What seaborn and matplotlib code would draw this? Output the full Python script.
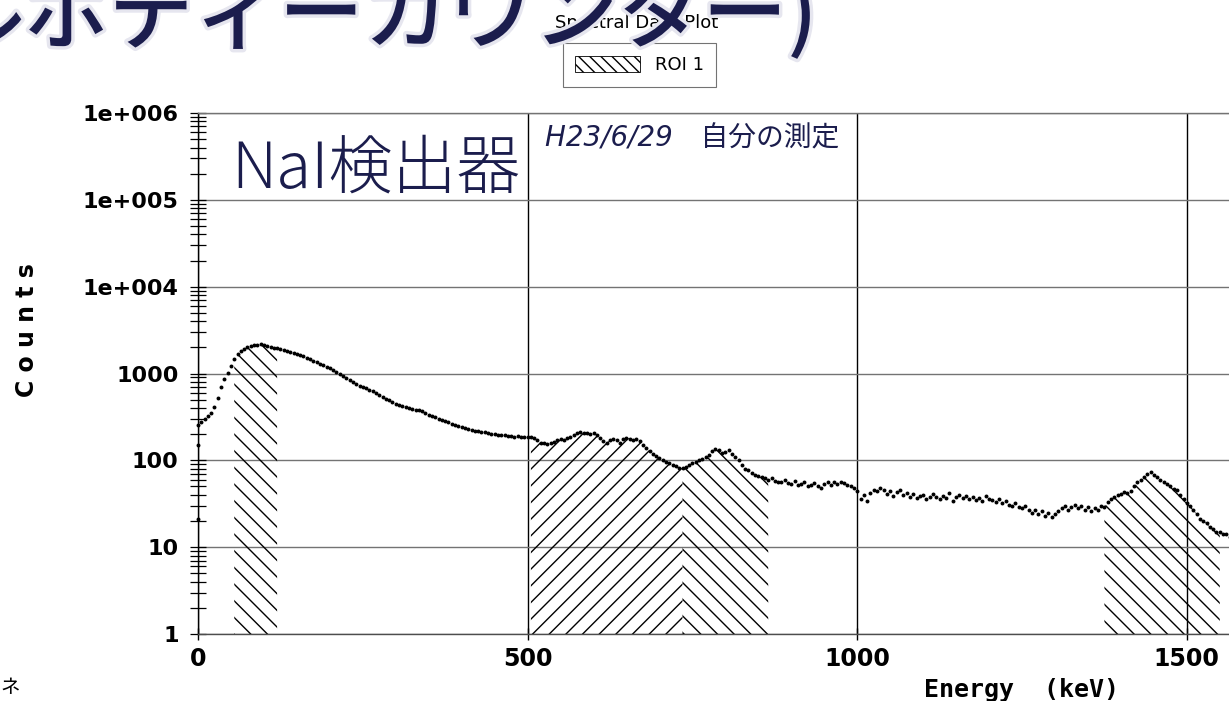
import numpy as np
import matplotlib
matplotlib.use("Agg")
import matplotlib.pyplot as plt
import matplotlib.patheffects as pe
from matplotlib.patches import Patch
from matplotlib.ticker import LogLocator, NullFormatter
import seaborn as sns

# energy channels (keV), 5 keV apart
energy = np.arange(0, 1570, 5)

# counts, one list per 100 keV block
counts_0 = [255, 275, 300, 320, 355, 410, 520, 700, 860, 1020,
            1220, 1480, 1680, 1820, 1930, 2000, 2060, 2110, 2140, 2160]
counts_100 = [2130, 2100, 2040, 1990, 1950, 1900, 1850, 1810, 1760, 1720,
              1690, 1620, 1570, 1510, 1450, 1400, 1340, 1290, 1240, 1190]
counts_200 = [1160, 1100, 1040, 990, 940, 895, 850, 800, 760, 725,
              700, 680, 650, 630, 600, 570, 540, 515, 490, 465]
counts_300 = [450, 435, 420, 410, 405, 395, 380, 375, 370, 350,
              335, 320, 315, 300, 290, 285, 275, 262, 255, 248]
counts_400 = [240, 236, 228, 222, 218, 215, 212, 210, 208, 203,
              200, 198, 194, 195, 190, 191, 188, 190, 186, 185]
counts_500 = [184, 188, 182, 172, 160, 158, 155, 157, 162, 170,
              175, 172, 180, 188, 195, 205, 210, 208, 205, 200]
counts_600 = [205, 195, 180, 165, 160, 170, 178, 172, 160, 175,
              182, 178, 172, 178, 165, 150, 140, 128, 118, 112]
counts_700 = [105, 100, 95, 92, 88, 85, 82, 81, 84, 88,
              92, 96, 100, 104, 108, 115, 128, 135, 130, 122]
counts_800 = [125, 130, 118, 108, 102, 88, 80, 78, 72, 68,
              66, 64, 63, 60, 62, 58, 56, 57, 60, 55]
counts_900 = [54, 58, 52, 54, 57, 50, 52, 55, 50, 48,
              53, 56, 52, 57, 54, 56, 55, 52, 50, 48]
counts_1000 = [44, 36, 40, 34, 42, 46, 44, 48, 45, 41,
               44, 39, 43, 46, 40, 42, 38, 41, 37, 39]
counts_1100 = [40, 36, 38, 41, 38, 36, 39, 37, 42, 34,
               38, 40, 37, 39, 36, 38, 35, 37, 34, 39]
counts_1200 = [36, 35, 33, 36, 32, 34, 31, 30, 32, 29,
               28, 30, 27, 25, 27, 24, 26, 23, 25, 22]
counts_1300 = [24, 26, 28, 30, 27, 29, 31, 28, 30, 27,
               29, 26, 28, 27, 30, 29, 33, 36, 38, 40]
counts_1400 = [41, 43, 42, 44, 50, 56, 60, 64, 70, 74,
               68, 65, 60, 57, 54, 50, 47, 45, 40, 36]
counts_1500 = [32, 30, 27, 24, 21, 20, 19, 17, 16, 15, 15, 14, 14, 13]

counts = np.array(counts_0 + counts_100 + counts_200 + counts_300 + counts_400
                  + counts_500 + counts_600 + counts_700 + counts_800 + counts_900
                  + counts_1000 + counts_1100 + counts_1200 + counts_1300
                  + counts_1400 + counts_1500, dtype=float)

# stray first-channel points
first_energy = [0, 0]
first_counts = [21, 150]

# regions of interest
roi_lo = [55, 505, 735, 1375]
roi_hi = [120, 735, 865, 1550]
roi_hatch = ['\\\\', '//', '\\\\', '\\\\']

ytick_vals = [1, 10, 100, 1000, 1e4, 1e5, 1e6]
ytick_labels = ['1', '10', '100', '1000', '1e+004', '1e+005', '1e+006']
xtick_vals = [0, 500, 1000, 1500]

navy = '#1b1d4d'

sns.set_theme(style='ticks')
plt.rcParams['font.family'] = ['DejaVu Sans', 'Noto Sans CJK JP']
plt.rcParams['hatch.linewidth'] = 1.0
plt.rcParams['text.color'] = 'black'
plt.rcParams['xtick.labelcolor'] = 'black'
plt.rcParams['ytick.labelcolor'] = 'black'

fig = plt.figure(figsize=(12.29, 7.01), dpi=100)
fig.patch.set_facecolor('white')
ax = fig.add_axes([198 / 1229, 1 - 634 / 701, 1 - 198 / 1229, (634 - 113) / 701])
ax.set_facecolor('white')

for lo, hi, h in zip(roi_lo, roi_hi, roi_hatch):
    m = (energy >= lo) & (energy <= hi)
    ax.fill_between(energy[m], 1, counts[m], hatch=h, facecolor='none',
                    edgecolor='black', linewidth=0, zorder=2)

sns.scatterplot(x=energy, y=counts, color='black', s=8, linewidth=0,
                ax=ax, zorder=4, legend=False, clip_on=False)
sns.scatterplot(x=first_energy, y=first_counts, color='black', s=8, linewidth=0,
                ax=ax, zorder=4, legend=False, clip_on=False)

ax.set_yscale('log')
ax.set_xlim(0, 1564)
ax.set_ylim(1, 1e6)
ax.set_xticks(xtick_vals)
ax.set_yticks(ytick_vals, labels=ytick_labels)
ax.yaxis.set_minor_locator(LogLocator(base=10, subs=np.arange(2, 10), numticks=20))
ax.yaxis.set_minor_formatter(NullFormatter())
ax.tick_params(axis='y', which='both', direction='inout', length=12, width=0.9,
               labelsize=16, pad=8, color='black', labelcolor='black')
ax.tick_params(axis='x', which='major', direction='inout', length=8, width=1,
               labelsize=17, pad=5, color='black', labelcolor='black')
ax.tick_params(axis='x', which='minor', bottom=False)
for lab in ax.get_xticklabels() + ax.get_yticklabels():
    lab.set_fontweight('bold')
ax.set_xlabel('')
ax.set_ylabel('')

ax.grid(axis='y', which='major', color='0.45', linewidth=1.0)
ax.grid(axis='x', which='major', color='black', linewidth=1.0)
ax.spines['right'].set_visible(False)
ax.spines['top'].set_color('0.45')
ax.spines['left'].set_color('black')
ax.spines['bottom'].set_color('0.3')
for s in ['top', 'left', 'bottom']:
    ax.spines[s].set_linewidth(1.0)

leg = ax.legend(handles=[Patch(facecolor='white', edgecolor='black', hatch='\\\\\\',
                               linewidth=0.6, label='ROI 1')],
                loc='center', bbox_to_anchor=(639.5 / 1229, 1 - 65 / 701),
                bbox_transform=fig.transFigure, fancybox=False, framealpha=1,
                edgecolor='0.45', handlelength=3.6, handleheight=1.0,
                fontsize=13, borderpad=0.7, labelcolor='black')
leg.get_frame().set_linewidth(0.8)

fig.text(0.022, 1 - 330 / 701, 'C o u n t s', rotation=90, ha='center', va='center',
         fontsize=17, fontweight='bold', family='DejaVu Sans', color='black')
fig.text(1022 / 1229, 1 - 690 / 701, 'Energy  (keV)', ha='center', va='center',
         fontsize=18, fontweight='bold', family='DejaVu Sans Mono', color='black')
fig.text(637 / 1229, 1 - 23 / 701, 'Spectral Data Plot', ha='center', va='center',
         fontsize=13, zorder=2, color='black')

# slide overlays
fig.text(-60 / 1229, 1 - 42 / 701, 'ルボディーカウンター)', ha='left', va='baseline',
         fontsize=61, fontweight='medium', color=navy, zorder=10,
         family=['Noto Sans CJK JP', 'DejaVu Sans'],
         path_effects=[pe.withStroke(linewidth=5, foreground='#e6e6ef')])
fig.text(376 / 1229, 1 - 170 / 701, 'NaI検出器', ha='center', va='center',
         fontsize=46, fontweight='light', color=navy, zorder=10,
         family=['Noto Sans CJK JP', 'DejaVu Sans'])
fig.text(545 / 1229, 1 - 138 / 701, 'H23/6/29\u3000自分の測定', ha='left', va='center',
         fontsize=20, style='italic', color=navy, zorder=10,
         family=['DejaVu Sans', 'Noto Sans CJK JP'])
fig.text(0.0, 1 - 688 / 701, 'ネ', ha='left', va='center', fontsize=14,
         color='black', family=['Noto Sans CJK JP', 'DejaVu Sans'])

fig.savefig('out.png', dpi=100, facecolor='white')
